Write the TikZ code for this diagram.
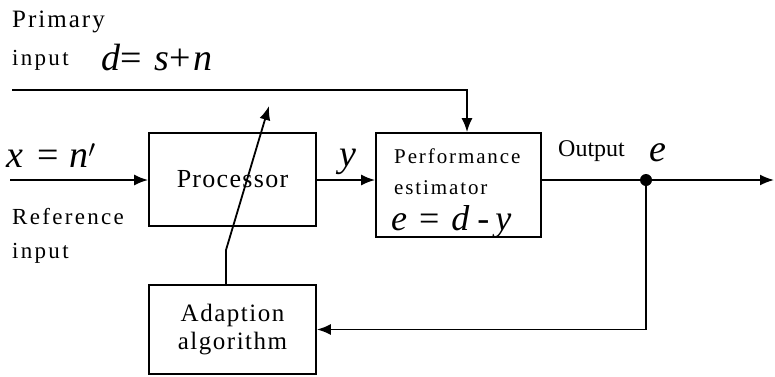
\documentclass[tikz,border=0pt]{standalone}
\usepackage{fontspec}
\setmainfont{Liberation Serif}
\newfontfamily\wsf[LetterSpace=10]{Liberation Serif}
\newfontfamily\psf[LetterSpace=5]{Liberation Serif}
\newfontfamily\asf[LetterSpace=6]{Liberation Serif}
\newfontfamily\fsf[LetterSpace=9]{Liberation Serif}
\newfontfamily\rsf[LetterSpace=8]{Liberation Serif}
\usetikzlibrary{arrows.meta}
\begin{document}
\begin{tikzpicture}[x=1pt,y=-1pt,
  blk/.style={draw,line width=1.8pt,rectangle,inner sep=0pt,align=center},
  arr/.style={line width=1.8pt,-{Latex[length=14pt,width=11pt]}},
  ln/.style={line width=1.8pt},
  lbl/.style={inner sep=0pt,font=\fontsize{23}{27}\wsf},
  mth/.style={inner sep=0pt,font=\fontsize{38}{40}\selectfont\itshape}]
\useasboundingbox (0,0) rectangle (775,376);
% blocks
\node[blk,minimum width=167pt,minimum height=93pt,font=\fontsize{26}{27}\psf] (proc) at (232.5,179.5) {Processor};
\node[blk,minimum width=167pt,minimum height=89pt,font=\fontsize{25}{28}\asf] (adapt) at (232.5,329.5) {Adaption\\algorithm};
\node[blk,minimum width=165pt,minimum height=104pt] (perf) at (458.5,185) {};
\node[inner sep=0pt,anchor=west,font=\fontsize{21}{31}\fsf,align=left] (perftxt) at (394,172) {Performance\\estimator};
\node[inner sep=0pt,anchor=base west,font=\fontsize{36}{38}\selectfont\itshape] (perfeq) at (391,230) {e\hspace{12pt}{\upshape =}\hspace{12pt}d\hspace{8pt}{\upshape -}\hspace{6pt}y};
% labels
\node[lbl,anchor=west,font=\fontsize{25}{28}\rsf] (prim) at (12,22) {Primary};
\node[lbl,anchor=west] (pinp) at (12,60) {input};
\node[mth,anchor=base west] (deq) at (101,70) {d{\upshape =}\hspace{13pt}s{\upshape +}\hspace{3pt}n};
\node[mth,anchor=base west] (xeq) at (6,167) {x\hspace{14pt}{\upshape =}\hspace{11pt}n$'$};
\node[lbl,anchor=west] (refl) at (12,217) {Reference};
\node[lbl,anchor=west] (refi) at (12,253) {input};
\node[mth,anchor=base west] (ylbl) at (339,166) {y};
\node[inner sep=0pt,anchor=west,font=\fontsize{24}{26}\selectfont] (outl) at (558,151) {Output};
\node[mth,anchor=base west] (outl2) at (649,161) {e};
% coordinates
\coordinate (xin) at (10,180);
\coordinate (pin) at (12,90);
\coordinate (dot) at (646,180);
\coordinate (out) at (774,180);
\coordinate (a1) at (226,250);
\coordinate (a2) at (269,106);
% connectors
\draw[arr] (xin) -- (proc.west |- xin);
\draw[arr] (proc.east |- xin) -- (perf.west |- xin);
\draw[arr] (pin) -| ([xshift=8.5pt]perf.north);
\draw[ln] (perf.east |- dot) -- (dot);
\draw[arr] (dot) -- (out);
\draw[arr] (dot) |- (adapt.east);
\draw[arr] (adapt.north -| a1) -- (a1) -- (a2);
\fill (dot) circle (6pt);
\end{tikzpicture}
\end{document}
